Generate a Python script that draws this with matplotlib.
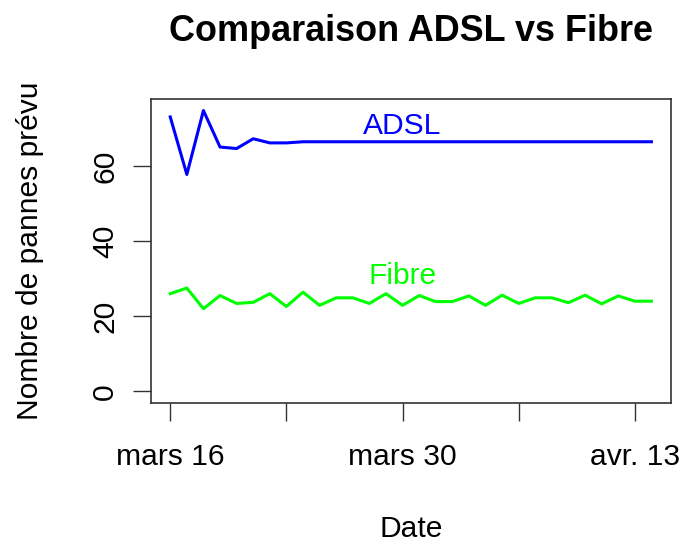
import datetime as dt

import matplotlib
matplotlib.use('Agg')
import matplotlib.pyplot as plt
import matplotlib.dates as mdates

# daily forecast, 16 March -> 14 April
start = dt.date(2020, 3, 16)
n_days = 30
dates = [start + dt.timedelta(days=i) for i in range(n_days)]

adsl = [73.0, 57.7, 74.7, 65.0, 64.6, 67.2, 66.1, 66.1, 66.4, 66.4,
        66.4, 66.4, 66.4, 66.4, 66.4, 66.4, 66.4, 66.4, 66.4, 66.4,
        66.4, 66.4, 66.4, 66.4, 66.4, 66.4, 66.4, 66.4, 66.4, 66.4]
fibre = [26.0, 27.5, 22.0, 25.5, 23.4, 23.7, 26.0, 22.6, 26.4, 22.9,
         24.9, 24.9, 23.4, 26.0, 22.9, 25.5, 23.9, 23.9, 25.4, 22.9,
         25.6, 23.4, 24.9, 24.9, 23.6, 25.6, 23.3, 25.4, 24.0, 24.0]

tick_dates = [dt.date(2020, 3, 16), dt.date(2020, 3, 23), dt.date(2020, 3, 30),
              dt.date(2020, 4, 6), dt.date(2020, 4, 13)]
tick_labels = ['mars 16', '', 'mars 30', '', 'avr. 13']
y_ticks = [0, 20, 40, 60]

label_date = dt.date(2020, 3, 30)
adsl_label_y = 70.5
fibre_label_y = 30.7

plt.rcParams['font.family'] = ['Liberation Sans', 'DejaVu Sans']

fig = plt.figure(figsize=(6.82, 5.43), dpi=100)
ax = fig.add_axes([0.2214, 0.2584, 0.762, 0.5587])

ax.plot(dates, adsl, color='#0000FF', lw=2.2)
ax.plot(dates, fibre, color='#00FF00', lw=2.2)

ax.text(label_date, adsl_label_y, 'ADSL', color='#0000FF', fontsize=21.6,
        ha='center', va='center')
ax.text(label_date, fibre_label_y, 'Fibre', color='#00FF00', fontsize=21.6,
        ha='center', va='center')

# R style 4% padding
pad = (n_days - 1) * 0.04
ax.set_xlim(mdates.date2num(dates[0]) - pad, mdates.date2num(dates[-1]) + pad)
ymax = max(adsl)
ax.set_ylim(-0.04 * ymax, ymax * 1.04)

ax.set_xticks(tick_dates)
ax.set_xticklabels(tick_labels)
ax.set_yticks(y_ticks)
ax.set_yticklabels([str(v) for v in y_ticks], rotation=90, va='center')

ax.tick_params(axis='both', length=13, width=1, color='#333333',
               labelsize=21.6, direction='out')
ax.tick_params(axis='x', pad=16)
ax.tick_params(axis='y', pad=10)
for s in ax.spines.values():
    s.set_color('#333333')
    s.set_linewidth(1.2)

ax.set_title('Comparaison ADSL vs Fibre', fontsize=25.9, fontweight='bold',
             y=1.195, va='center')
ax.set_xlabel('Date', fontsize=21.6)
ax.xaxis.label.set_va('center')
ax.xaxis.set_label_coords(0.5, -0.415)
ax.set_ylabel('Nombre de pannes prévu', fontsize=21.6)
ax.yaxis.label.set_va('center')
ax.yaxis.set_label_coords(-0.233, 0.5)

fig.savefig('out.png', dpi=100)
